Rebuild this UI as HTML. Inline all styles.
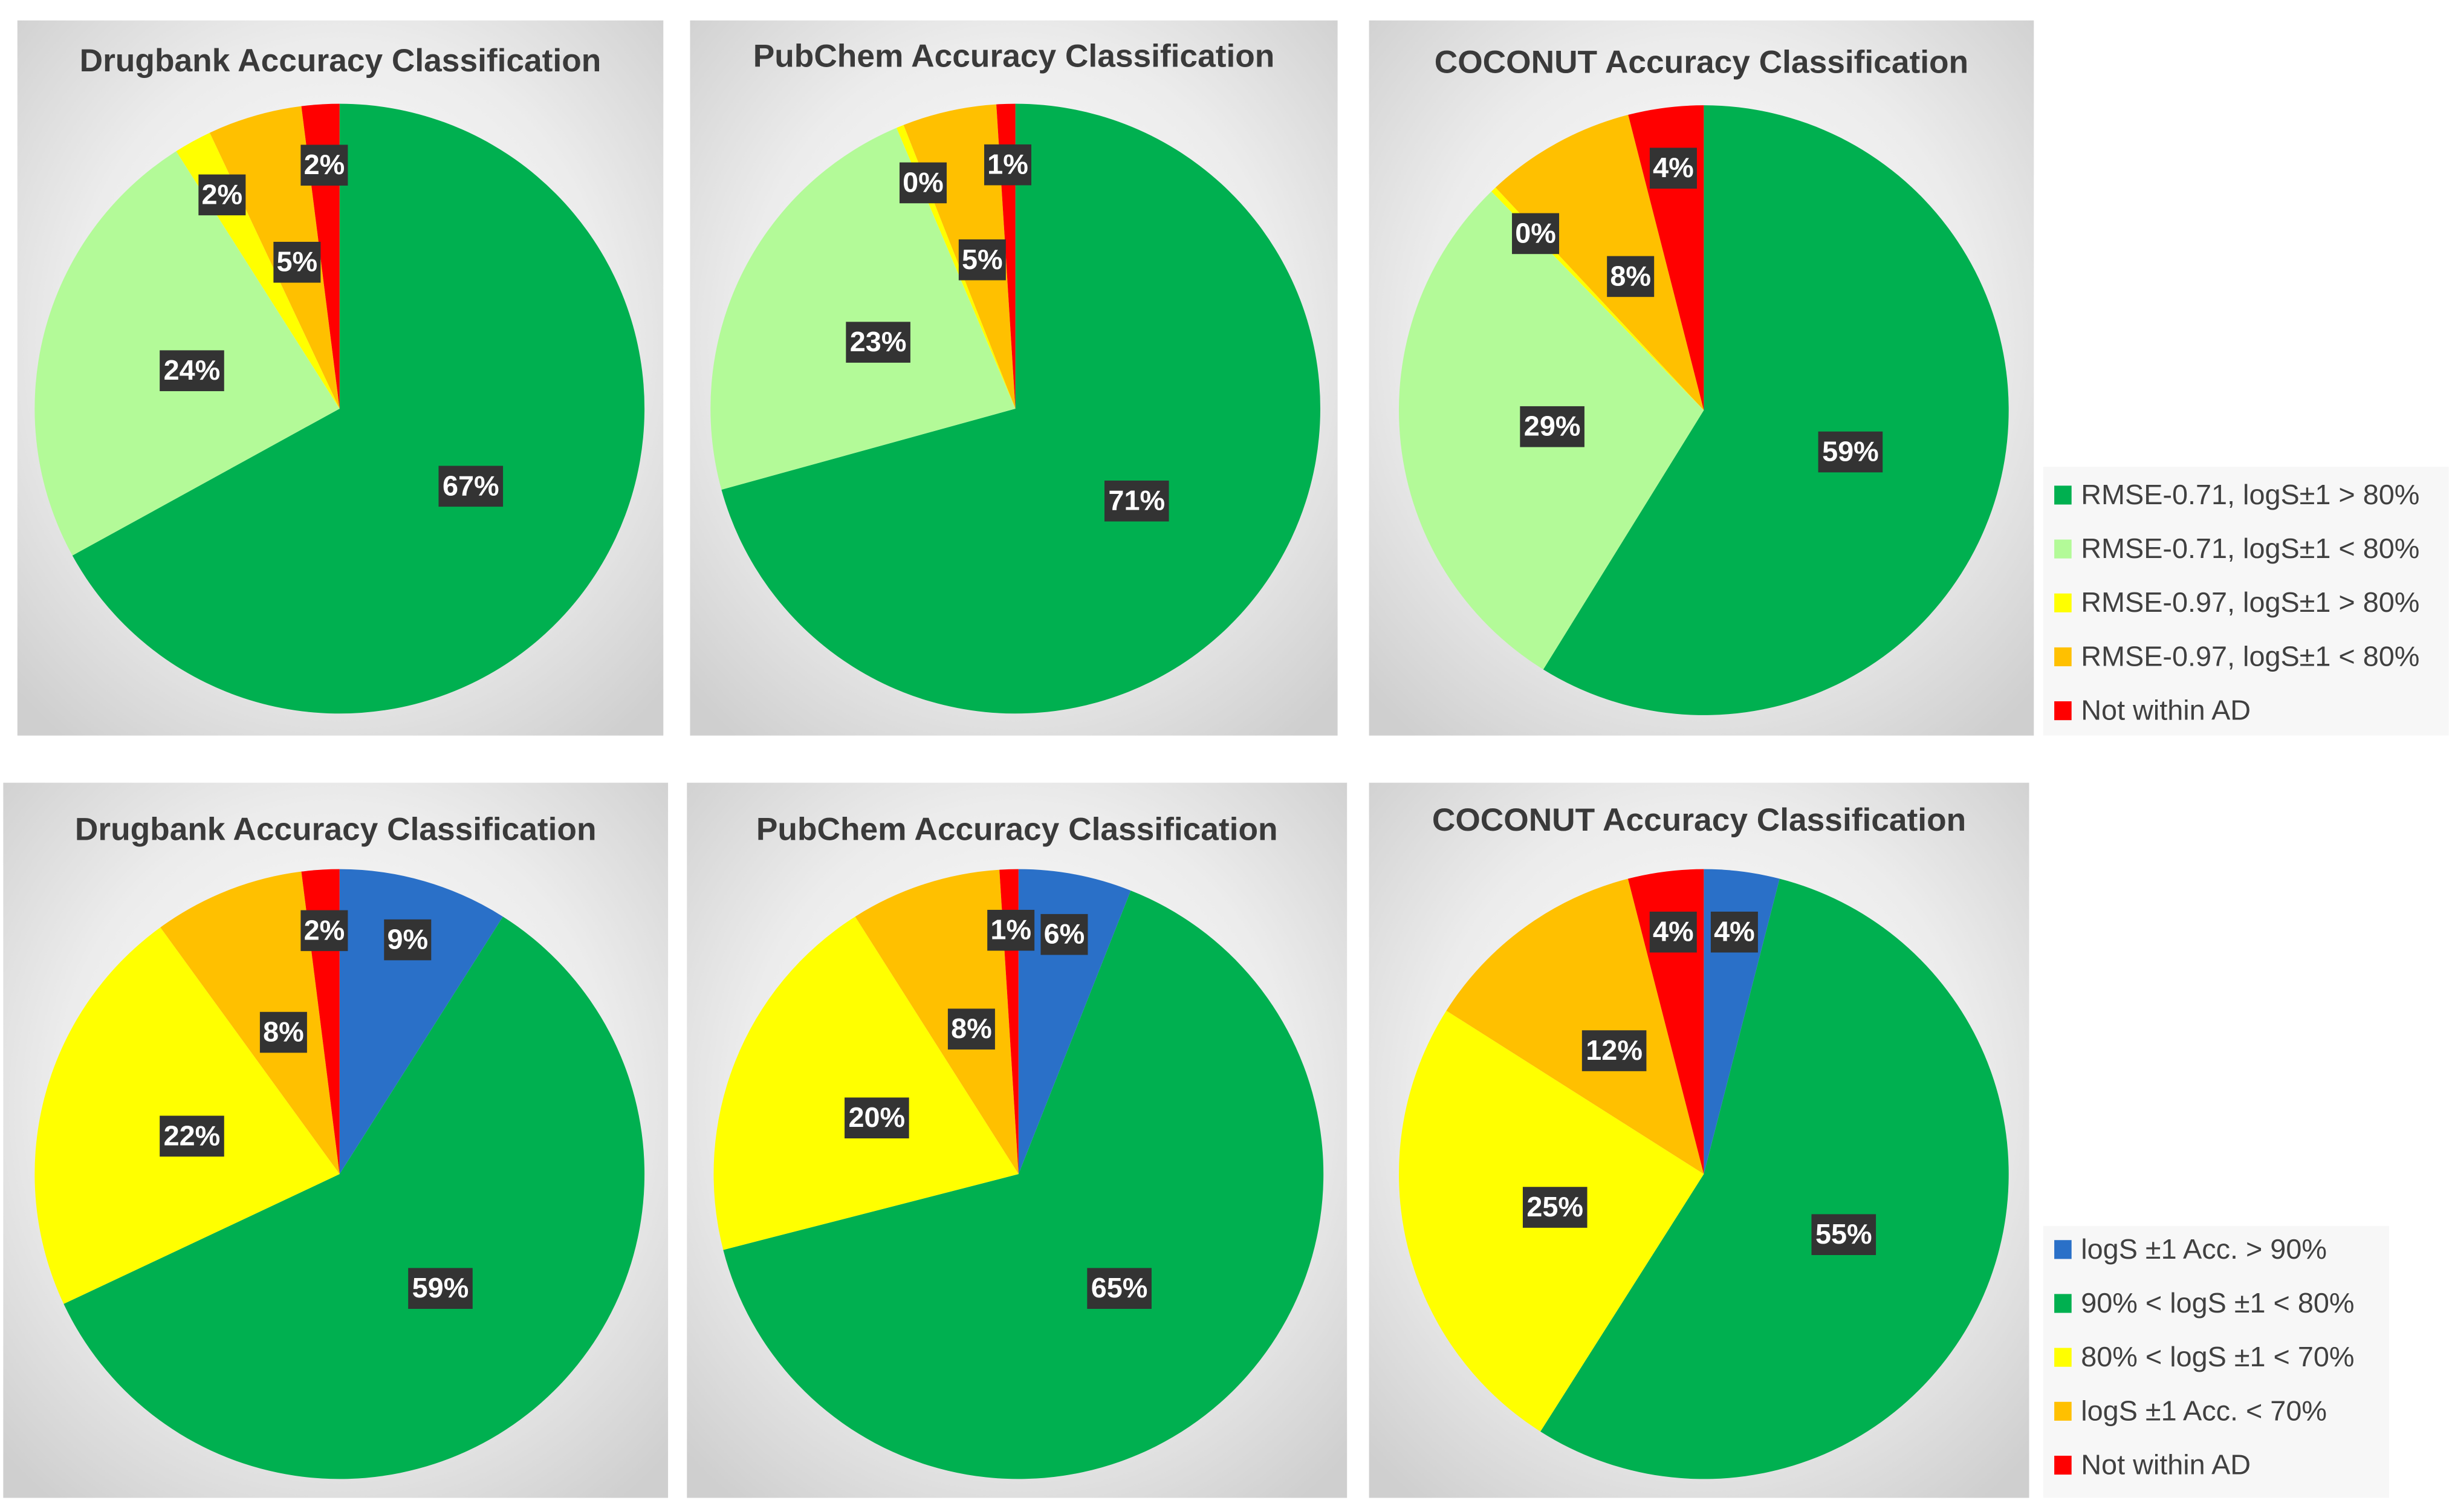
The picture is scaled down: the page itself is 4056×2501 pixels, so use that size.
<!DOCTYPE html>
<html><head><meta charset="utf-8"><style>
html,body{margin:0;padding:0;background:#fff;}
svg{display:block;}
text{font-family:"Liberation Sans",sans-serif;}
</style></head>
<body>
<svg id="fig" width="4056" height="2501" viewBox="0 0 1560 962" xmlns="http://www.w3.org/2000/svg">
<defs>
<radialGradient id="bg" cx="50%" cy="45%" r="70%">
<stop offset="0" stop-color="#ffffff"/><stop offset="0.6" stop-color="#ececec"/><stop offset="1" stop-color="#cfcfcf"/>
</radialGradient>
</defs>
</svg>
<script>
const topCategories = ["RMSE-0.71, logS±1 > 80%","RMSE-0.71, logS±1 < 80%","RMSE-0.97, logS±1 > 80%","RMSE-0.97, logS±1 < 80%","Not within AD"];
const topColors = ["#00b050","#b3fa98","#ffff00","#ffc000","#ff0000"];
const bottomCategories = ["logS ±1 Acc. > 90%","90% < logS ±1 < 80%","80% < logS ±1 < 70%","logS ±1 Acc. < 70%","Not within AD"];
const bottomColors = ["#2a70c8","#00b050","#ffff00","#ffc000","#ff0000"];
const drugbankTop = [67,24,2,5,2];
const pubchemTop = [71,23,0.4,5,1];
const coconutTop = [59,29,0.3,8,4];
const drugbankBottom = [9,59,22,8,2];
const pubchemBottom = [6,65,20,8,1];
const coconutBottom = [4,55,25,12,4];
const titles = ["Drugbank Accuracy Classification","PubChem Accuracy Classification","COCONUT Accuracy Classification"];

const svg = document.getElementById('fig');
const NS = "http://www.w3.org/2000/svg";
function mk(tag, attrs){const e=document.createElementNS(NS,tag);for(const k in attrs)e.setAttribute(k,attrs[k]);svg.appendChild(e);return e;}

const panels = [
 {x:11,y:13,w:411,h:455,cx:216,cy:260,ty:40,data:drugbankTop,colors:topColors,title:0,name:'drugbank-top'},
 {x:439,y:13,w:412,h:455,cx:646,cy:260,ty:37,data:pubchemTop,colors:topColors,title:1,name:'pubchem-top'},
 {x:871,y:13,w:423,h:455,cx:1084,cy:261,ty:41,data:coconutTop,colors:topColors,title:2,name:'coconut-top'},
 {x:2,y:498,w:423,h:455,cx:216,cy:747,ty:529,data:drugbankBottom,colors:bottomColors,title:0,name:'drugbank-bottom'},
 {x:437,y:498,w:420,h:455,cx:648,cy:747,ty:529,data:pubchemBottom,colors:bottomColors,title:1,name:'pubchem-bottom'},
 {x:871,y:498,w:420,h:455,cx:1084,cy:747,ty:523,data:coconutBottom,colors:bottomColors,title:2,name:'coconut-bottom'}
];
const R = 194;
function pt(cx,cy,r,frac){const a=frac*2*Math.PI-Math.PI/2;return [cx+r*Math.cos(a),cy+r*Math.sin(a)];}

panels.forEach(p=>{
  const bg=mk('rect',{x:p.x,y:p.y,width:p.w,height:p.h,fill:'url(#bg)'});
  
  
  const t=mk('text',{x:p.x+p.w/2,y:p.ty,'text-anchor':'middle','dominant-baseline':'middle','font-size':20.5,'font-weight':'bold',fill:'#3a3a3a'});
  t.textContent=titles[p.title];
  
  
  const total=p.data.reduce((a,b)=>a+b,0);
  let acc=0;
  p.data.forEach((v,i)=>{
    const f0=acc/total, f1=(acc+v)/total; acc+=v;
    const [x0,y0]=pt(p.cx,p.cy,R,f0),[x1,y1]=pt(p.cx,p.cy,R,f1);
    const large=(f1-f0)>0.5?1:0;
    const s=mk('path',{d:`M${p.cx},${p.cy} L${x0},${y0} A${R},${R} 0 ${large} 1 ${x1},${y1} Z`,fill:p.colors[i]});
    
    
  });
  acc=0;
  p.data.forEach((v,i)=>{
    const mid=(acc+v/2)/total; acc+=v;
    const pct=Math.round(v/total*100);
    const rf=pct>=10?0.5:(i===3?0.5:0.8);
    const [lx,ly]=pt(p.cx,p.cy,R*rf,mid);
    const label=pct+'%';
    const w=label.length*11+8;
    const b=mk('rect',{x:lx-w/2,y:ly-13,width:w,height:26,fill:'#333333'});
    
    
    const lt=mk('text',{x:lx,y:ly+1,'text-anchor':'middle','dominant-baseline':'middle','font-size':18,'font-weight':'bold',fill:'#fff'});
    lt.textContent=label;
    
    
  });
});

function legend(x,y,w,h,rowY,cats,cols,name){
  const r=mk('rect',{x:x,y:y,width:w,height:h,fill:'#f7f7f7'});
  
  
  cats.forEach((c,i)=>{
    const yy=rowY+i*34.3;
    const sq=mk('rect',{x:x+7,y:yy-6,width:11,height:12,fill:cols[i]});
    
    
    const t=mk('text',{x:x+24,y:yy+1,'dominant-baseline':'middle','font-size':18,fill:'#404040'});
    t.textContent=c;
    
    
  });
}
legend(1300,297,258,171,315,topCategories,topColors,'top-legend');
legend(1300,780,220,173,795,bottomCategories,bottomColors,'bottom-legend');
</script>
</body></html>
